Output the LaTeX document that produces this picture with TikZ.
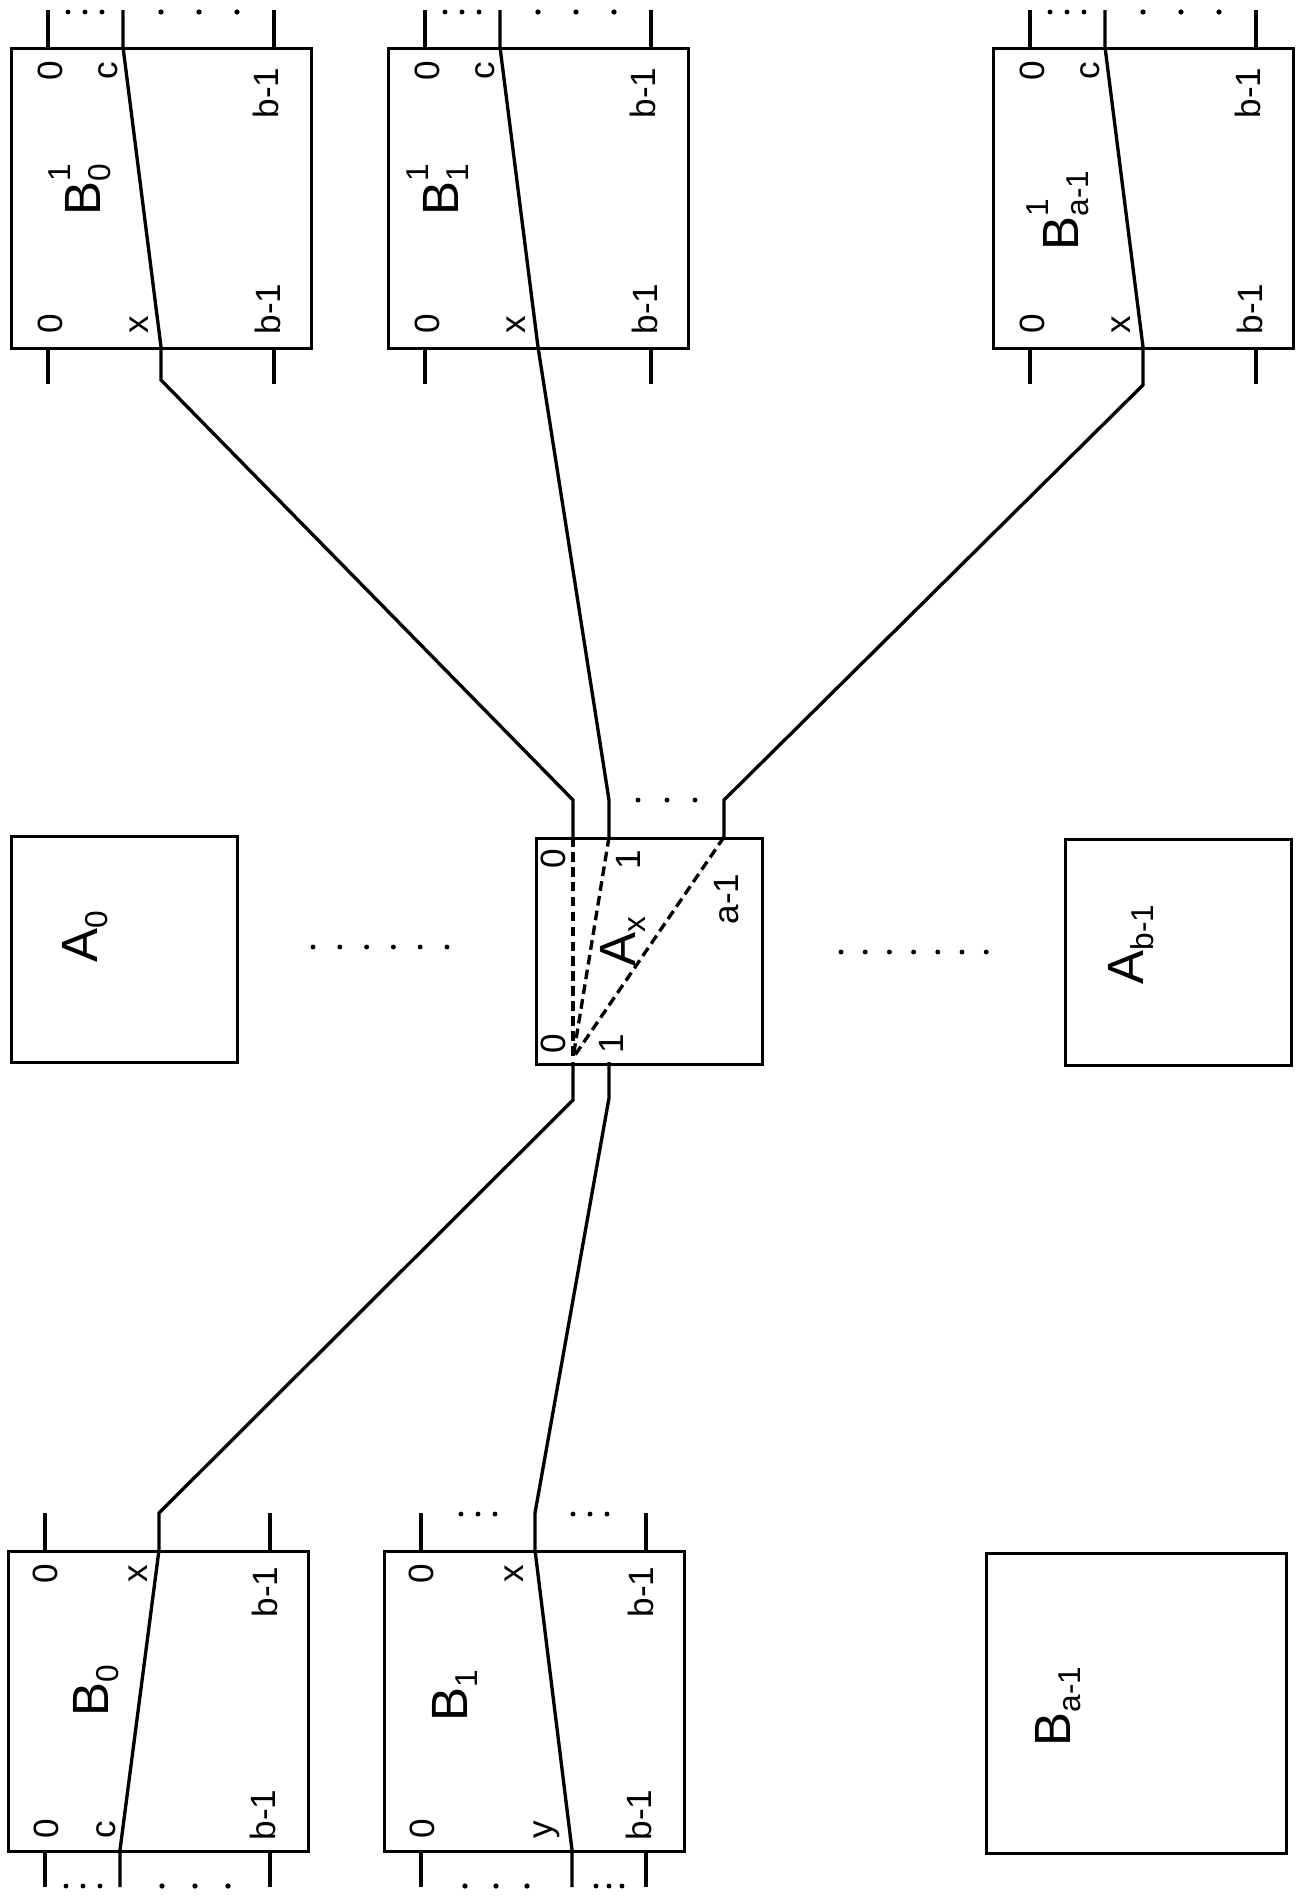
\documentclass[tikz,border=0pt]{standalone}
\usepackage{fontspec}
\setmainfont{Liberation Sans}
\usetikzlibrary{calc}

% block name with index and level
\newcommand{\blocklabel}[3]{#1\rlap{\raisebox{17pt}{\fontsize{18}{18}\selectfont #3}}\raisebox{-6pt}{\fontsize{18}{18}\selectfont #2}}

\begin{document}
\begin{tikzpicture}[x=0.02cm, y=-0.02cm, line width=1.9pt,
	every node/.style={inner sep=0pt},
	bbox/.style={draw, rectangle, minimum width=6cm, minimum height=6cm, anchor=north west},
	abox/.style={draw, rectangle, minimum width=4.52cm, minimum height=4.52cm, anchor=north west},
	portlbl/.style={rotate=90, font=\fontsize{20}{20}\selectfont},
	toplbl/.style={portlbl, anchor=base east},
	botlbl/.style={portlbl, anchor=base west},
	blkname/.style={rotate=90, anchor=base west, font=\fontsize{29}{29}\selectfont},
	wire/.style={dash pattern=on 5.5pt off 3pt}]
	\useasboundingbox (0,0) rectangle (1298,1897);
	% upper row of blocks
	\foreach \nm/\lx/\s/\nx/\ny in {tB0/10/0/100/217, tB1/387/1/458/217, tBa/992/{a-1}/1078/252} {
		\node[bbox] (\nm) at (\lx,47) {};
		\coordinate (\nm-0) at (\lx+38,47);
		\coordinate (\nm-e) at (\lx+264,47);
		\coordinate (\nm-0s) at (\lx+38,347);
		\coordinate (\nm-es) at (\lx+264,347);
		\coordinate (\nm-c) at (\lx+113,47);
		\coordinate (\nm-x) at (\lx+151,347);
		\draw (\nm-0) -- ++(0,-37) (\nm-e) -- ++(0,-37);
		\draw (\nm-0s) -- ++(0,37) (\nm-es) -- ++(0,37);
		\node[toplbl] at (\lx+52,59) {0};
		\node[toplbl] at (\lx+107,60) {c};
		\node[toplbl] at (\lx+268,66) {b-1};
		\node[botlbl] at (\lx+52,335) {0};
		\node[botlbl] at (\lx+138,335) {x};
		\node[botlbl] at (\lx+270,336) {b-1};
		\node[blkname] at (\nx,\ny) {\blocklabel{B}{\s}{1}};
		\foreach \d in {-17,0,17} \fill (\lx+75+\d,12) circle (1.4pt);
		\foreach \d in {-38,0,38} \fill (\lx+189+\d,12) circle (1.5pt);
	}
	% middle row
	\node[abox] (A0) at (10,835) {};
	\node[abox] (Ax) at (535,837) {};
	\node[abox] (Ab) at (1064,838) {};
	\node[blkname] at (97,964) {\blocklabel{A}{0}{}};
	\node[blkname] at (635,968) {\blocklabel{A}{x}{}};
	\node[blkname] at (1143,986) {\blocklabel{A}{b-1}{}};
	\foreach \i in {0,...,5} \fill (313+\i*26.8,947) circle (1.4pt);
	\foreach \i in {0,...,6} \fill (841+\i*24.2,952) circle (1.4pt);
	\coordinate (Ax-0) at (573,837);
	\coordinate (Ax-1) at (609,837);
	\coordinate (Ax-e) at (724,837);
	\coordinate (Ax-f) at (573,1058);
	\coordinate (Ax-0s) at (573,1062);
	\coordinate (Ax-1s) at (609,1062);
	\foreach \xx in {638,667,695} \fill (\xx,800) circle (1.4pt);
	\node[toplbl] at (565,847) {0};
	\node[toplbl] at (640,848) {1};
	\node[toplbl] at (738,872) {a-1};
	\node[botlbl] at (565,1055) {0};
	\node[botlbl] at (623,1055) {1};
	\draw[wire] (Ax-0) -- (Ax-f);
	\draw[wire] (Ax-1) -- (Ax-f);
	\draw[wire] (Ax-e) -- (Ax-f);
	% lower row of blocks
	\foreach \nm/\lx/\pb/\pv/\lv/\s/\nx/\ny in {bB0/7/113/c/108/0/108/1718, bB1/383/189/y/169/1/467/1723} {
		\node[bbox] (\nm) at (\lx,1550) {};
		\coordinate (\nm-0) at (\lx+38,1550);
		\coordinate (\nm-e) at (\lx+263,1550);
		\coordinate (\nm-0s) at (\lx+38,1850);
		\coordinate (\nm-es) at (\lx+263,1850);
		\coordinate (\nm-x) at (\lx+152,1550);
		\coordinate (\nm-v) at (\lx+\pb,1850);
		\draw (\nm-0) -- ++(0,-37) (\nm-e) -- ++(0,-37);
		\draw (\nm-0s) -- ++(0,37) (\nm-es) -- ++(0,37);
		\node[toplbl] at (\lx+50,1562) {0};
		\node[toplbl] at (\lx+140,1563) {x};
		\node[toplbl] at (\lx+270,1565) {b-1};
		\node[botlbl] at (\lx+51,1840) {0};
		\node[botlbl] at (\lx+\lv,1840) {\pv};
		\node[botlbl] at (\lx+268,1842) {b-1};
		\node[blkname] at (\nx,\ny) {\blocklabel{B}{\s}{}};
	}
	\node[bbox] (bBa) at (985,1552) {};
	\node[blkname] at (1070,1748) {\blocklabel{B}{a-1}{}};
	\foreach \d in {-17,0,17} \fill (83+\d,1886) circle (1.4pt);
	\foreach \d in {-33,0,33} \fill (195+\d,1886) circle (1.5pt);
	\foreach \d in {-17,0,17} \fill (478+\d,1514) circle (1.4pt);
	\foreach \d in {-17,0,17} \fill (590+\d,1514) circle (1.4pt);
	\foreach \d in {-31,0,31} \fill (496+\d,1886) circle (1.5pt);
	\foreach \d in {-13,0,13} \fill (609+\d,1886) circle (1.4pt);
	% connections through A_x
	\draw ($(tB0-c)+(0,-37)$) -- (tB0-c) -- (tB0-x) -- ++(0,33) -- ($(Ax-0)+(0,-37)$) -- (Ax-0);
	\draw ($(tB1-c)+(0,-37)$) -- (tB1-c) -- (tB1-x) -- ($(Ax-1)+(0,-37)$) -- (Ax-1);
	\draw ($(tBa-c)+(0,-37)$) -- (tBa-c) -- (tBa-x) -- ++(0,38) -- ($(Ax-e)+(0,-37)$) -- (Ax-e);
	\draw (Ax-0s) -- ++(0,38) -- ($(bB0-x)+(0,-37)$) -- (bB0-x) -- (bB0-v) -- ++(0,37);
	\draw (Ax-1s) -- ++(0,36) -- ($(bB1-x)+(0,-37)$) -- (bB1-x) -- (bB1-v) -- ++(0,37);
\end{tikzpicture}
\end{document}
